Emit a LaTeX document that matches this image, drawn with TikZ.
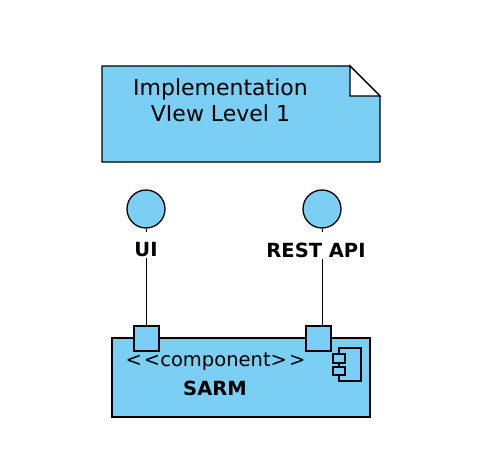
\documentclass[tikz,border=0pt]{standalone}
\usepackage{fontspec}
\setmainfont{DejaVu Sans}
\definecolor{umlblue}{RGB}{123,206,244}
\begin{document}
\begin{tikzpicture}[x=1pt,y=-1pt,
  shapeline/.style={draw=black,line width=1.3pt,fill=umlblue},
  conn/.style={draw=black,line width=1pt},
  lbl/.style={font=\fontsize{19.5}{22}\selectfont\bfseries,inner sep=1pt}]
\useasboundingbox (0,0) rectangle (488,466);
% note
\draw[shapeline] (102,66) -- (350,66) -- (380,96) -- (380,162) -- (102,162) -- cycle;
\draw[line width=1.3pt,fill=white,line join=miter] (350,66) -- (350,96) -- (380,96) -- cycle;
\node[font=\fontsize{22}{26}\selectfont,align=center] (note) at (220.5,100) {Implementation\\VIew Level 1};
% component
\draw[shapeline] (112,338) rectangle (370,417);
\node[shapeline,minimum size=25pt,inner sep=0pt] (p1) at (146.5,338.5) {};
\node[shapeline,minimum size=25pt,inner sep=0pt] (p2) at (318.5,338.5) {};
\node[font=\fontsize{19.5}{22}\selectfont,inner sep=0pt] (stereo) at (215.5,362) {{<}\kern2pt{<}component{>}\kern2pt{>}};
\node[font=\fontsize{19.5}{22}\selectfont\bfseries,inner sep=0pt] (name) at (215,388) {SARM};
% component icon
\draw[line width=1.1pt] (339,348) rectangle (361,381);
\draw[line width=1.1pt,fill=umlblue] (333,354) rectangle (345,363);
\draw[line width=1.1pt,fill=umlblue] (333,367) rectangle (345,375);
% interfaces
\node[shapeline,circle,minimum size=38pt,inner sep=0pt] (c1) at (146,209) {};
\node[shapeline,circle,minimum size=38pt,inner sep=0pt] (c2) at (322,209) {};
\node[lbl] (l1) at (146,250) {UI};
\node[lbl] (l2) at (316,250) {REST API};
\draw[conn] (l1.south -| p1.north) -- (p1.north);
\draw[conn] (l2.south -| c2.south) -- (c2.south |- p2.north);
\draw[conn,line width=0.6pt] (c1.south) -- ++(0,3);
\draw[conn,line width=0.6pt] (c2.south) -- ++(0,3);
\end{tikzpicture}
\end{document}
